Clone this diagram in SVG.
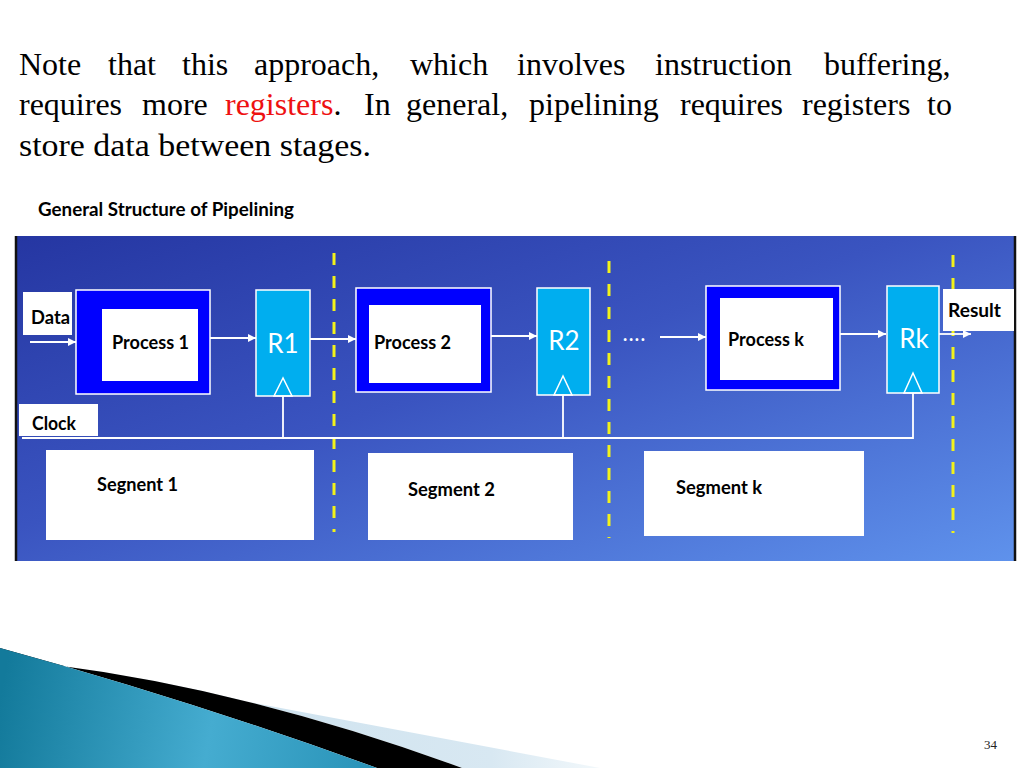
<svg xmlns="http://www.w3.org/2000/svg" width="1024" height="768" viewBox="0 0 1024 768">
<defs>
<linearGradient id="panelGrad" x1="0" y1="0" x2="1" y2="1">
<stop offset="0" stop-color="#2536a2"/>
<stop offset="0.45" stop-color="#3a54c0"/>
<stop offset="1" stop-color="#5f92ec"/>
</linearGradient>
<linearGradient id="tealGrad" gradientUnits="userSpaceOnUse" x1="0" y1="700" x2="380" y2="768">
<stop offset="0" stop-color="#137a9b"/>
<stop offset="0.55" stop-color="#45acd0"/>
<stop offset="1" stop-color="#2892b7"/>
</linearGradient>
<linearGradient id="lightGrad" gradientUnits="userSpaceOnUse" x1="60" y1="0" x2="600" y2="0">
<stop offset="0" stop-color="#ffffff"/>
<stop offset="0.35" stop-color="#cfe3ef"/>
<stop offset="0.8" stop-color="#d8e8f2"/>
<stop offset="1" stop-color="#f2f8fb"/>
</linearGradient>
<marker id="arr" viewBox="0 0 10 10" refX="10" refY="5" markerWidth="8" markerHeight="8" markerUnits="userSpaceOnUse" orient="auto">
<path d="M0,0 L10,5 L0,10 Z" fill="#ffffff"/>
</marker>
<style>
.hdr{font-family:"Liberation Serif","Times New Roman",serif;font-size:32px;fill:#000}
.red{fill:#ee1111}
.lbl{font-family:Lato,"Open Sans",sans-serif;font-weight:bold;font-size:18px;fill:#000}
.reg{font-family:Lato,"Open Sans",sans-serif;font-size:26px;fill:#fff}
.proc{fill:#0000ff;stroke:#ffffff;stroke-width:1.5}
.inner{fill:#ffffff}
.rbox{fill:#00aeef;stroke:#ffffff;stroke-width:1.5}
.tri{fill:none;stroke:#ffffff;stroke-width:1.5}
.wbox{fill:#ffffff}
.conn{stroke:#ffffff;stroke-width:1.8;fill:none}
.dash{stroke:#f2f21a;stroke-width:3;stroke-dasharray:12 11;fill:none}
</style>
</defs>
<rect width="1024" height="768" fill="#ffffff"/>

<!-- header text -->
<text class="hdr" y="75"><tspan x="19">Note</tspan><tspan x="108">that</tspan><tspan x="182">this</tspan><tspan x="254">approach,</tspan><tspan x="410">which</tspan><tspan x="517">involves</tspan><tspan x="655">instruction</tspan><tspan x="824">buffering,</tspan></text>
<text class="hdr" y="115"><tspan x="19">requires</tspan><tspan x="142">more</tspan><tspan x="225" class="red">registers</tspan><tspan>.</tspan><tspan x="364">In</tspan><tspan x="406">general,</tspan><tspan x="529">pipelining</tspan><tspan x="680">requires</tspan><tspan x="802">registers</tspan><tspan x="927">to</tspan></text>
<text class="hdr" x="19" y="156" textLength="352" lengthAdjust="spacingAndGlyphs">store data between stages.</text>

<text class="lbl" x="38" y="216" textLength="256" lengthAdjust="spacingAndGlyphs">General Structure of Pipelining</text>

<!-- panel -->
<rect x="15" y="236" width="1001" height="325" fill="url(#panelGrad)"/>
<line x1="16" y1="236" x2="16" y2="561" stroke="#111" stroke-width="2.5"/>
<line x1="1015" y1="236" x2="1015" y2="561" stroke="#111" stroke-width="2.5"/>

<!-- stage separators -->
<g id="separators">
<line class="dash" x1="334" y1="253" x2="334" y2="532"/>
<line class="dash" x1="609" y1="261" x2="609" y2="538"/>
<line class="dash" x1="953" y1="255" x2="953" y2="533"/>
</g>

<!-- connectors -->
<g id="connectors">
<line class="conn" x1="30" y1="342" x2="76" y2="342" marker-end="url(#arr)"/>
<line class="conn" x1="210" y1="338" x2="256" y2="338" marker-end="url(#arr)"/>
<line class="conn" x1="310" y1="339" x2="356" y2="339" marker-end="url(#arr)"/>
<line class="conn" x1="491" y1="336" x2="537" y2="336" marker-end="url(#arr)"/>
<line class="conn" x1="660" y1="337" x2="706" y2="337" marker-end="url(#arr)"/>
<line class="conn" x1="840" y1="334" x2="886" y2="334" marker-end="url(#arr)"/>
<line class="conn" x1="939" y1="334" x2="971" y2="334" marker-end="url(#arr)"/>
<polyline class="conn" points="22,438 913,438 913,393"/>
<line class="conn" x1="283" y1="396" x2="283" y2="438"/>
<line class="conn" x1="563" y1="395" x2="563" y2="438"/>
</g>

<g id="data">
<rect class="wbox" x="23" y="292" width="49" height="43"/>
<text class="lbl" x="31" y="324" textLength="39" lengthAdjust="spacingAndGlyphs">Data</text>
</g>
<g id="clock">
<rect class="wbox" x="19" y="404" width="79" height="32"/>
<text class="lbl" x="32" y="430" textLength="44" lengthAdjust="spacingAndGlyphs">Clock</text>
</g>

<g id="process1">
<rect class="proc" x="76" y="290" width="134" height="104"/>
<rect class="inner" x="102" y="309" width="96" height="72"/>
<text class="lbl" x="112" y="349" textLength="77" lengthAdjust="spacingAndGlyphs">Process 1</text>
</g>
<g id="r1">
<rect class="rbox" x="256" y="290" width="54" height="106"/>
<text class="reg" x="283" y="353" text-anchor="middle">R1</text>
<polygon class="tri" points="283,378 274,396 292,396"/>
</g>

<g id="process2">
<rect class="proc" x="356" y="288" width="135" height="104"/>
<rect class="inner" x="369" y="305" width="112" height="78"/>
<text class="lbl" x="374" y="349" textLength="77" lengthAdjust="spacingAndGlyphs">Process 2</text>
</g>
<g id="r2">
<rect class="rbox" x="537" y="288" width="53" height="107"/>
<text class="reg" x="564" y="350" text-anchor="middle">R2</text>
<polygon class="tri" points="563,376 554,395 572,395"/>
</g>

<text x="623" y="341" font-family="Lato, sans-serif" font-weight="bold" font-size="18" fill="#ffffff" textLength="22" lengthAdjust="spacing">....</text>

<g id="processk">
<rect class="proc" x="706" y="286" width="134" height="104"/>
<rect class="inner" x="720" y="298" width="113" height="82"/>
<text class="lbl" x="728" y="346" textLength="76" lengthAdjust="spacingAndGlyphs">Process k</text>
</g>
<g id="rk">
<rect class="rbox" x="887" y="286" width="52" height="107"/>
<text class="reg" x="914" y="348" text-anchor="middle">Rk</text>
<polygon class="tri" points="913,373 904,393 922,393"/>
</g>

<g id="result">
<rect class="wbox" x="943" y="289" width="71" height="42"/>
<text class="lbl" x="948" y="317" textLength="53" lengthAdjust="spacingAndGlyphs">Result</text>
</g>

<g id="segment1">
<rect class="wbox" x="46" y="450" width="268" height="90"/>
<text class="lbl" x="97" y="491" textLength="81" lengthAdjust="spacingAndGlyphs">Segnent 1</text>
</g>
<g id="segment2">
<rect class="wbox" x="368" y="453" width="205" height="87"/>
<text class="lbl" x="408" y="496" textLength="87" lengthAdjust="spacingAndGlyphs">Segment 2</text>
</g>
<g id="segmentk">
<rect class="wbox" x="644" y="451" width="220" height="85"/>
<text class="lbl" x="676" y="494" textLength="86" lengthAdjust="spacingAndGlyphs">Segment k</text>
</g>

<!-- decorative swoosh -->
<path d="M100,674 L600,768 L462,768 Q250,690 55,665 Z" fill="url(#lightGrad)"/>
<path d="M55,665 Q250,690 462,768 L377,768 Q190,700 0,648 L0,650 Z" fill="#000000"/>
<path d="M0,648 Q190,700 377,768 L0,768 Z" fill="url(#tealGrad)"/>

<text x="984" y="749" font-family="Liberation Serif, serif" font-size="13" fill="#222">34</text>
</svg>
